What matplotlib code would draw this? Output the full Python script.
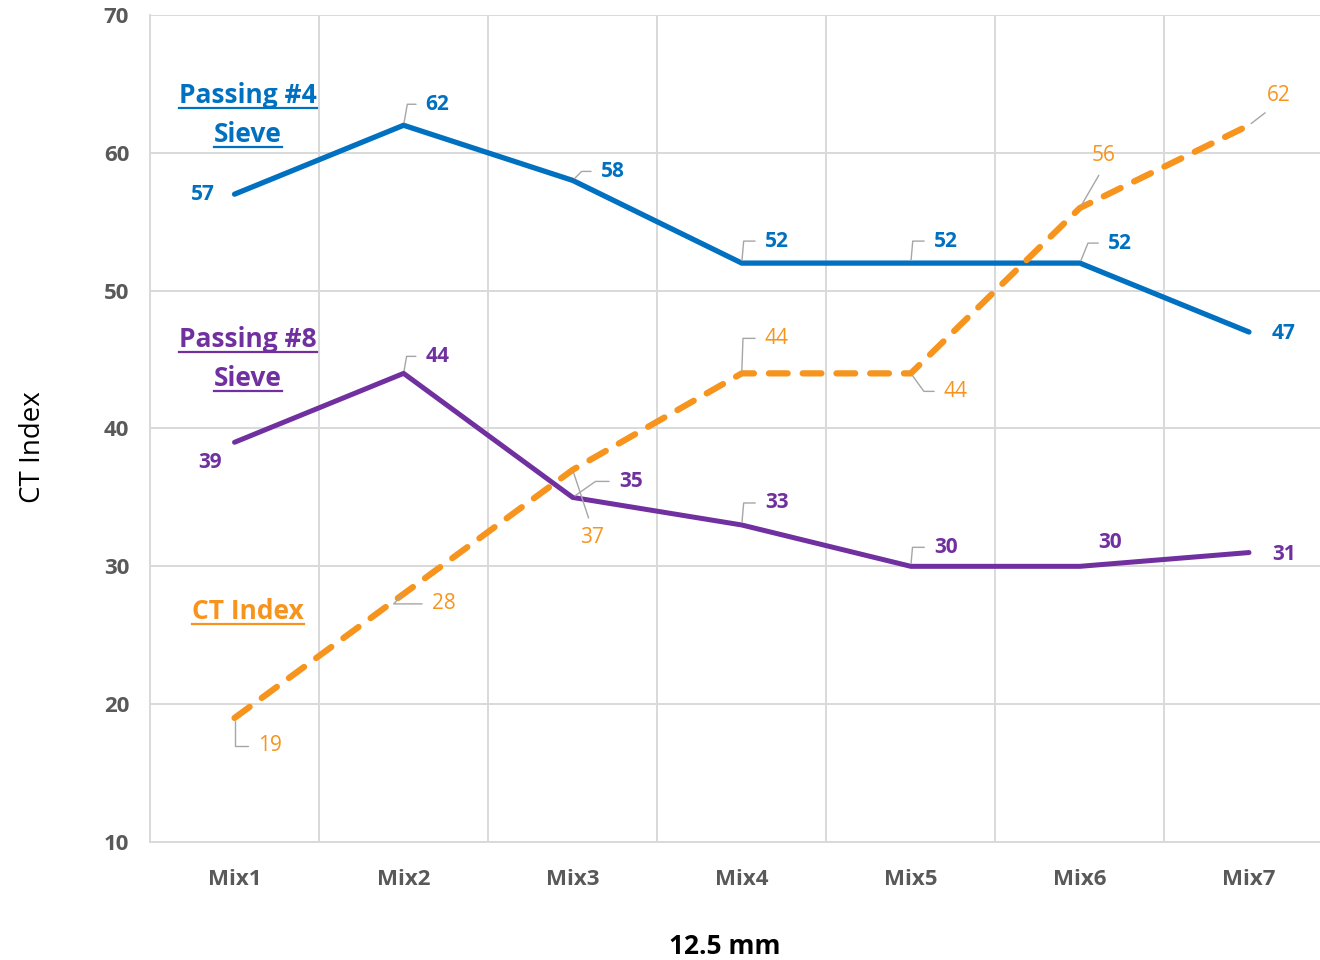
#!/usr/bin/env python3
"""CT Index vs passing sieve percentages, 12.5 mm mixes."""

import matplotlib
matplotlib.use('Agg')
import matplotlib.pyplot as plt
from matplotlib.lines import Line2D

plt.rcParams.update({
    'font.family': ['Open Sans', 'DejaVu Sans'],
    'font.size': 15,
})

# ---- data ----
mixes = ['Mix1', 'Mix2', 'Mix3', 'Mix4', 'Mix5', 'Mix6', 'Mix7']
passing4 = [57, 62, 58, 52, 52, 52, 47]
passing8 = [39, 44, 35, 33, 30, 30, 31]
ct_index = [19, 28, 37, 44, 44, 56, 62]

BLUE = '#0070C0'
PURPLE = '#7030A0'
ORANGE = '#F7941D'
GRID = '#D9D9D9'
TICK = '#595959'
LEADER = '#A6A6A6'

W, H = 1320, 960
fig = plt.figure(figsize=(W / 100, H / 100), dpi=100)
ax = fig.add_axes([150 / W, 1 - 842 / H, (1333.5 - 150) / W, (842 - 15) / H])

x = list(range(1, len(mixes) + 1))

ax.plot(x, passing4, color=BLUE, lw=3.8, solid_capstyle='round', solid_joinstyle='miter', zorder=3)
ax.plot(x, passing8, color=PURPLE, lw=3.6, solid_capstyle='round', solid_joinstyle='miter', zorder=3)
ax.plot(x, ct_index, color=ORANGE, lw=4.5, dashes=(3.0, 2.4), dash_capstyle='round', zorder=3)

ax.set_xlim(0.5, 7.5)
ax.set_ylim(10, 70)
ax.set_yticks(range(10, 71, 10))
ax.set_xticks(x)
ax.set_xticklabels(mixes)
ax.set_xticks([i + 0.5 for i in x[:-1]], minor=True)

ax.grid(True, which='major', axis='y', color=GRID, lw=1.4, zorder=0)
ax.grid(True, which='minor', axis='x', color=GRID, lw=1.4, zorder=0)
ax.tick_params(which='both', length=0)
ax.tick_params(axis='y', pad=15, labelcolor=TICK, labelsize=16)
ax.tick_params(axis='x', pad=19.5, labelcolor=TICK, labelsize=16)
for lab in ax.get_xticklabels() + ax.get_yticklabels():
    lab.set_fontweight('bold')

for side in ['top', 'right']:
    ax.spines[side].set_visible(False)
for side in ['left', 'bottom']:
    ax.spines[side].set_color(GRID)
    ax.spines[side].set_linewidth(1.4)

ax.set_ylabel('CT Index', fontsize=20, color='black')
ax.yaxis.set_label_coords((47 - 150) / 1183.5, (842 - 447) / 827)
ax.set_xlabel('12.5 mm', fontsize=19, fontweight='bold', color='black')
ax.xaxis.set_label_coords((725 - 150) / 1183.5, (842 - 933) / 827)

# ---- data labels: (dx, dy) offset in pixels, optional leader line ----
def elbow(angle):
    return dict(connectionstyle=f'angle,angleA=0,angleB={angle},rad=0', relpos=(0, 0.5))


def straight(rx, ry):
    return dict(connectionstyle='arc3', relpos=(rx, ry))


p4_labels = [(-32, 0, None), (34, 21, elbow(80)), (40, 9, elbow(45)), (35, 22, elbow(85)),
             (35, 22, elbow(85)), (40, 20, elbow(68)), (35, -1, None)]
p8_labels = [(-24, -20, None), (34, 17, elbow(80)), (58, 16, elbow(35)), (35, 22, elbow(85)),
             (35, 19, elbow(85)), (30, 24, None), (35, -2, None)]
ct_labels = [(35, -28, elbow(90)), (40, -10, elbow(45)), (19, -68, straight(0.5, 1)),
             (35, 35, elbow(88)), (45, -18, elbow(-54)), (24, 52, straight(0.5, 0)),
             (30, 30, straight(0.3, 0))]


def label_series(vals, specs, color, weight):
    for xi, v, (dx, dy, lead) in zip(x, vals, specs):
        kw = {}
        if lead is not None:
            kw['arrowprops'] = dict(arrowstyle='-', color=LEADER, lw=1.0,
                                    shrinkA=5, shrinkB=2, **lead)
        ax.annotate(str(v), xy=(xi, v), xytext=(dx, dy), textcoords='offset pixels',
                    ha='center', va='center', fontsize=15, fontweight=weight,
                    color=color, zorder=4, **kw)


label_series(passing4, p4_labels, BLUE, 'bold')
label_series(passing8, p8_labels, PURPLE, 'bold')
label_series(ct_index, ct_labels, ORANGE, 'normal')

# ---- in-plot series names, underlined ----
names = [('Passing #4', 103, BLUE), ('Sieve', 142, BLUE),
         ('Passing #8', 347, PURPLE), ('Sieve', 386, PURPLE),
         ('CT Index', 619, ORANGE)]
texts = []
for txt, base_y, col in names:
    t = fig.text(248 / W, 1 - base_y / H, txt, ha='center', va='baseline',
                 fontsize=19, fontweight='bold', color=col)
    texts.append((t, base_y, col))

fig.canvas.draw()
renderer = fig.canvas.get_renderer()
for t, base_y, col in texts:
    bb = t.get_window_extent(renderer)
    yy = H - (base_y + 5)
    fig.add_artist(Line2D([bb.x0 / W, bb.x1 / W], [yy / H, yy / H],
                          transform=fig.transFigure, color=col, lw=1.6))

fig.savefig('out.png', dpi=100, facecolor='white')
